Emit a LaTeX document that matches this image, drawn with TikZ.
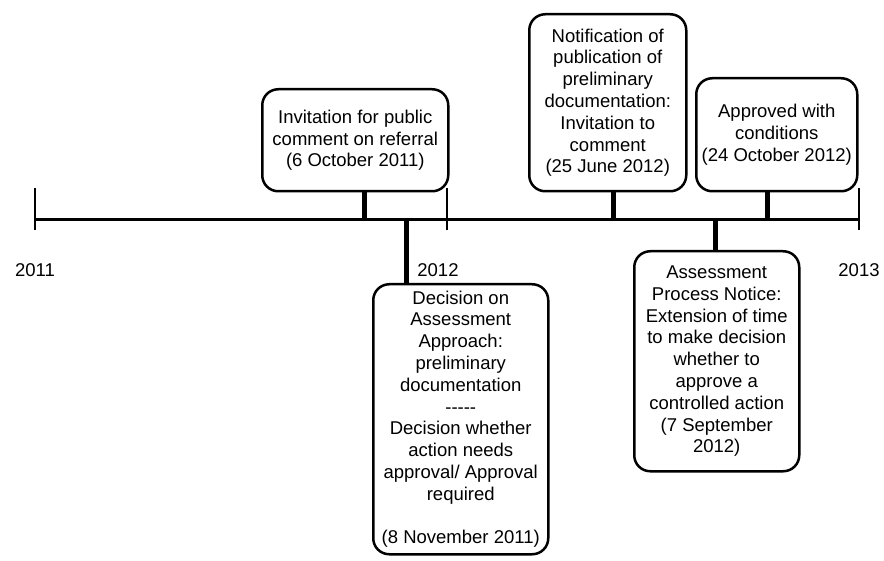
\documentclass[tikz,border=0pt]{standalone}
\usepackage{fontspec}
\setmainfont{Liberation Sans}
\begin{document}
\begin{tikzpicture}[x=1pt,y=-1pt,
  evbox/.style={draw, line width=2.5pt, rounded corners=16pt, inner sep=0pt,
    align=center, font=\fontsize{18.5}{21.8}\selectfont, anchor=north west},
  conn/.style={line width=5pt},
  axis/.style={line width=3pt},
  tick/.style={line width=2pt},
  yearlbl/.style={font=\fontsize{18.5}{21.8}\selectfont, inner sep=0pt}]
\useasboundingbox (0,0) rectangle (884,561);

% timeline
\coordinate (a2011) at (35,220);
\coordinate (a2012) at (447,220);
\coordinate (a2013) at (859,220);
\draw[axis] (a2011) -- (a2013);
\foreach \c in {a2011,a2012,a2013}{
  \draw[tick] ([yshift=-10pt]\c) -- ([yshift=32pt]\c);
}
\node[yearlbl] (y2011) at (35,270) {2011};
\node[yearlbl] (y2012) at (438,270) {2012};
\node[yearlbl] (y2013) at (859,270) {2013};

% boxes
\node[evbox, minimum width=186pt, minimum height=102pt] (b1) at (261,88)
  {Invitation for public\\comment on referral\\(6 October 2011)};
\node[evbox, minimum width=157pt, minimum height=177pt] (b3) at (528,13)
  {Notification of\\publication of\\preliminary\\documentation:\\Invitation to\\comment\\(25 June 2012)};
\node[evbox, minimum width=161pt, minimum height=113pt] (b4) at (695,77)
  {Approved with\\conditions\\(24 October 2012)};
\node[evbox, minimum width=175pt, minimum height=270pt] (b2) at (372,283)
  {Decision on\\Assessment\\Approach:\\preliminary\\documentation\\{-}{-}{-}{-}{-}\\Decision whether\\action needs\\approval/ Approval\\required\\[21.8pt](8 November 2011)};
\node[evbox, minimum width=165pt, minimum height=220pt] (b5) at (633,250)
  {Assessment\\Process Notice:\\Extension of time\\to make decision\\whether to\\approve a\\controlled action\\(7 September\\2012)};

% connectors
\coordinate (c1) at (364,220);
\coordinate (c2) at (406,220);
\coordinate (c3) at (613,220);
\coordinate (c4) at (767,220);
\coordinate (c5) at (715,220);
\draw[conn] (c1) -- (c1 |- b1.south);
\draw[conn] (c3) -- (c3 |- b3.south);
\draw[conn] (c4) -- (c4 |- b4.south);
\draw[conn] (c2) -- (c2 |- b2.north);
\draw[conn] (c5) -- (c5 |- b5.north);
\end{tikzpicture}
\end{document}
